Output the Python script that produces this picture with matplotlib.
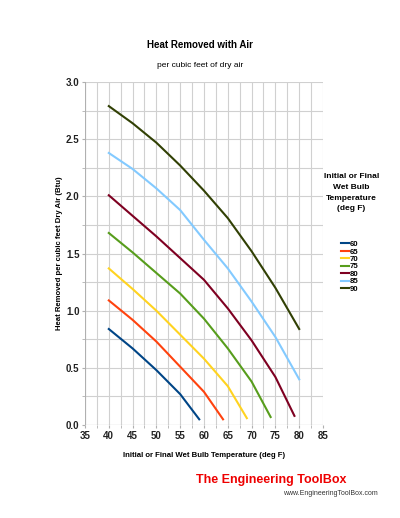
import matplotlib
matplotlib.use("Agg")
import matplotlib.pyplot as plt

plt.rcParams["font.family"] = ["Liberation Sans", "DejaVu Sans"]

# wet bulb temperature series (deg F)
series_labels = ["60", "65", "70", "75", "80", "85", "90"]
colors = ["#004586", "#ff420e", "#ffd320", "#579d1c", "#7e0021", "#83caff", "#314004"]

x60 = [40, 45, 50, 55, 59]
y60 = [0.84, 0.67, 0.48, 0.27, 0.05]
x65 = [40, 45, 50, 55, 60, 64]
y65 = [1.09, 0.92, 0.73, 0.51, 0.29, 0.05]
x70 = [40, 45, 50, 55, 60, 65, 69]
y70 = [1.37, 1.19, 1.00, 0.79, 0.58, 0.34, 0.06]
x75 = [40, 45, 50, 55, 60, 65, 70, 74]
y75 = [1.68, 1.51, 1.33, 1.15, 0.93, 0.67, 0.38, 0.07]
x80 = [40, 45, 50, 55, 60, 65, 70, 75, 79]
y80 = [2.01, 1.83, 1.65, 1.46, 1.27, 1.02, 0.74, 0.42, 0.08]
x85 = [40, 45, 50, 55, 60, 65, 70, 75, 80]
y85 = [2.38, 2.24, 2.07, 1.88, 1.62, 1.37, 1.08, 0.77, 0.40]
x90 = [40, 45, 50, 55, 60, 65, 70, 75, 80]
y90 = [2.79, 2.64, 2.47, 2.27, 2.05, 1.81, 1.52, 1.20, 0.84]

xs = [x60, x65, x70, x75, x80, x85, x90]
ys = [y60, y65, y70, y75, y80, y85, y90]

fig = plt.figure(figsize=(4, 5.18), dpi=100)
ax = fig.add_axes([0.2125, 0.1795, 0.595, 0.662])

for x, y, c, lab in zip(xs, ys, colors, series_labels):
    ax.plot(x, y, color=c, lw=1.5, label=lab)

ax.set_xlim(35, 85)
ax.set_ylim(0, 3.0)
ax.set_xticks(range(35, 86, 5))
ax.set_yticks([0, 0.5, 1.0, 1.5, 2.0, 2.5, 3.0])
ax.set_yticklabels(["0.0", "0.5", "1.0", "1.5", "2.0", "2.5", "3.0"])
ax.set_xticks([x + 2.5 for x in range(35, 85, 5)], minor=True)
ax.set_yticks([y * 0.5 + 0.25 for y in range(6)], minor=True)
ax.grid(True, which="both", color="#d0d0d0", lw=0.8)
ax.set_axisbelow(True)
ax.tick_params(which="both", length=2, color="#b0b0b0", labelsize=7,
               labelcolor="#222222", pad=2)
for lbl in ax.get_xticklabels() + ax.get_yticklabels():
    lbl.set_fontweight("bold")
for s in ax.spines.values():
    s.set_visible(False)
ax.axvline(35, color="#b0b0b0", lw=0.8)
ax.axhline(0, color="#b0b0b0", lw=0.8)

ax.set_xlabel("Initial or Final Wet Bulb Temperature (deg F)", fontsize=5.6,
              fontweight="bold", labelpad=8)
ax.set_ylabel("Heat Removed per cubic feet Dry Air (Btu)", fontsize=5.6,
              fontweight="bold", labelpad=2)

fig.text(0.5, 0.907, "Heat Removed with Air", ha="center", fontsize=7, fontweight="bold")
fig.text(0.5, 0.87, "per cubic feet of dry air", ha="center", fontsize=6)

fig.text(0.878, 0.666, "Initial or Final\nWet Bulb\nTemperature\n(deg F)", ha="center",
         va="top", fontsize=6, fontweight="bold", linespacing=1.75)
leg = fig.legend(loc="upper left", bbox_to_anchor=(0.843, 0.543), frameon=False,
                 fontsize=5.6, handlelength=1.0, handletextpad=0.15,
                 labelspacing=0.0, borderpad=0)
for t in leg.get_texts():
    t.set_fontweight("bold")

fig.text(0.49, 0.068, "The Engineering ToolBox", color="#ee0000", fontsize=9,
         fontweight="bold")
fig.text(0.945, 0.045, "www.EngineeringToolBox.com", ha="right", fontsize=5, color="#333333")

fig.savefig("out.png", dpi=100)
